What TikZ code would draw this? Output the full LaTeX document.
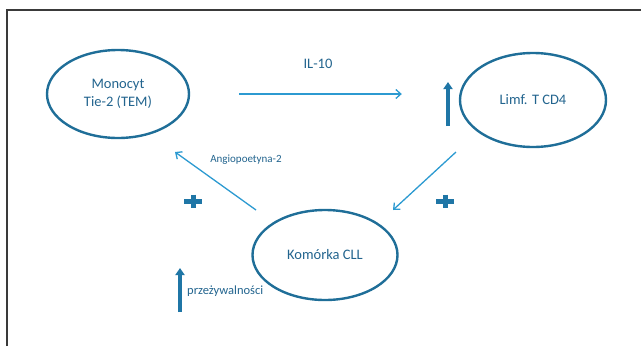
\documentclass[tikz,border=0pt]{standalone}
\usepackage{fontspec}
\setmainfont{Carlito}
\definecolor{cellEdge}{HTML}{1F6E98}
\definecolor{cellText}{HTML}{22648E}
\definecolor{flowBlue}{HTML}{2C9AD1}
\definecolor{boostBlue}{HTML}{1F76A6}
\definecolor{frameGray}{HTML}{3A3A3A}
\usetikzlibrary{arrows.meta,shapes.geometric}
\newcommand{\plusmark}[1]{%
\draw[boostBlue, line width=5pt] ($(#1)+(-9,0)$) -- ($(#1)+(9,0)$);%
\draw[boostBlue, line width=5pt] ($(#1)+(0,-6.5)$) -- ($(#1)+(0,6.5)$);}
\usetikzlibrary{calc}

\begin{document}
\begin{tikzpicture}[x=1pt, y=-1pt,
  cell/.style={ellipse, draw=cellEdge, line width=2.4pt, inner sep=0pt, align=center, text=cellText, font=\fontsize{14.5}{17.5}\selectfont},
  flow/.style={-{Straight Barb[length=5pt,width=9pt]}, flowBlue, line width=1.3pt},
  boost/.style={-{Triangle[length=7pt,width=9pt]}, boostBlue, line width=4pt},
  tag/.style={text=cellText, inner sep=0pt}]
\useasboundingbox (0,0) rectangle (641,346);
% frame
\draw[frameGray, line width=1.3pt] (7,346) -- (7,10) -- (641,10);
% cells
\node[cell, minimum width=142pt, minimum height=88pt] (mono) at (118,94) {Monocyt\\Tie-2 (TEM)};
\node[cell, minimum width=146pt, minimum height=94pt] (limf) at (533,100) {Limf. T CD4};
\node[cell, minimum width=145pt, minimum height=90pt] (cll) at (325,255) {Komórka CLL};
% signals
\draw[flow] ([xshift=49pt]mono.east) -- ([xshift=-57pt]mono.east -| limf.west);
\draw[flow] ([shift={(-77,52)}]limf.center) -- ([shift={(68,-45)}]cll.center);
\draw[flow] ([shift={(-69,-45)}]cll.center) -- ([shift={(57,58)}]mono.center);
\node[tag, font=\fontsize{14.5}{17}\selectfont] (il10) at (318,64) {IL-10};
\node[tag, font=\fontsize{11}{13}\selectfont] (ang) at (246,160) {Angiopoetyna-2};
% effects
\coordinate (upA) at (448,126);
\coordinate (upB) at (180,312);
\draw[boost] (upA) -- ++(0,-44);
\draw[boost] (upB) -- ++(0,-44);
\node[tag, anchor=west, font=\fontsize{12.5}{15}\selectfont] (surv) at (187,291) {przeżywalności};
\coordinate (plA) at (193,201);
\coordinate (plB) at (445,201);
\plusmark{plA}
\plusmark{plB}
\end{tikzpicture}
\end{document}
